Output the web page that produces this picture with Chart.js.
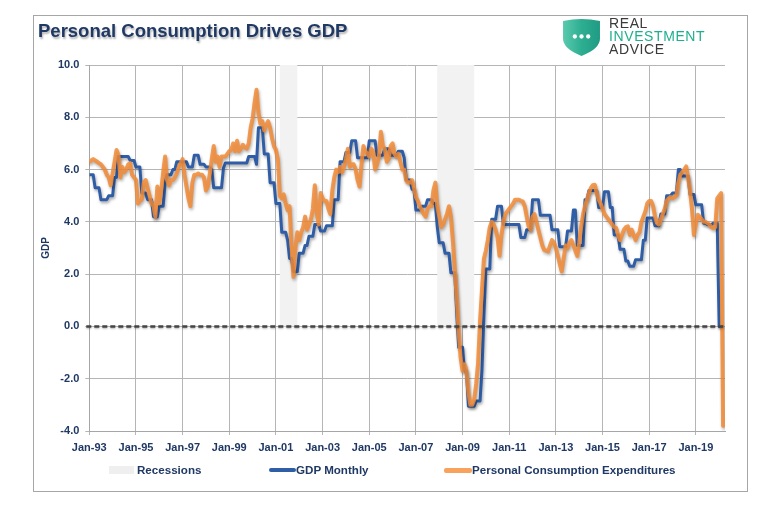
<!DOCTYPE html>
<html>
<head>
  <title>Personal Consumption Drives GDP</title>
  <script src="https://cdn.jsdelivr.net/npm/chart.js"></script>
  <style>
    body { margin: 0; background: #fff; }
    #wrap { position: relative; width: 772px; height: 507px; overflow: hidden; font-family: "Liberation Sans", Arial, sans-serif; }
    #frame { position: absolute; left: 33px; top: 15px; width: 715px; height: 477px; box-sizing: border-box; border: 1px solid #A6A6A6; }
    canvas { position: absolute; left: 0; top: 0; }
    #title { position: absolute; left: 38px; top: 22px; font-size: 18.5px; line-height: 1; font-weight: bold; color: #1F3864; text-shadow: 1px 2px 2px rgba(0,0,0,0.3); white-space: nowrap; }
    #logo { position: absolute; left: 562px; top: 17px; }
    #logoText { position: absolute; left: 609px; top: 17px; font-size: 14px; line-height: 13px; letter-spacing: 0.6px; color: #3A3A3A; }
    #logoText .teal { color: #1FAF8F; }
    .lg { position: absolute; top: 463px; font-size: 11.6px; line-height: 14px; font-weight: bold; color: #1F3864; white-space: nowrap; }
    .sw { position: absolute; }
  </style>
</head>
<body>
<div id="wrap">
  <div id="frame"></div>
  <canvas id="chart" width="772" height="507"></canvas>
  <div id="title">Personal Consumption Drives GDP</div>
  <svg id="logo" width="39" height="39" viewBox="0 0 38 38">
    <defs>
      <linearGradient id="shield" x1="0" x2="1" y1="0" y2="0">
        <stop offset="0" stop-color="#5ACAAE"/>
        <stop offset="0.5" stop-color="#2DAE91"/>
        <stop offset="1" stop-color="#1F9B83"/>
      </linearGradient>
    </defs>
    <path d="M1,4 Q19,0 37,4 L37,21 Q37,31 19,38 Q1,31 1,21 Z" fill="url(#shield)"/>
    <circle cx="12.5" cy="19" r="2.1" fill="#fff"/>
    <circle cx="19" cy="19" r="2.1" fill="#fff"/>
    <circle cx="25.5" cy="19" r="2.1" fill="#fff"/>
  </svg>
  <div id="logoText">REAL<br><span class="teal">INVESTMENT</span><br>ADVICE</div>

  <div class="sw" style="left:109px; top:466px; width:25px; height:8px; background:#EFEFEF;"></div>
  <div class="lg" style="left:137px;">Recessions</div>
  <div class="sw" style="left:269px; top:468px; width:27px; height:4px; border-radius:2px; background:#2F5DA6;"></div>
  <div class="lg" style="left:296px;">GDP Monthly</div>
  <div class="sw" style="left:444px; top:468px; width:28px; height:5px; border-radius:2px; background:#F8A25E;"></div>
  <div class="lg" style="left:472px;">Personal Consumption Expenditures</div>
</div>

<script>
  // monthly values, Jan-93 .. Mar-20 (one row per year)
  const gdpMonthly = [
    5.8, 5.8, 5.8, 5.3, 5.3, 5.3, 4.85, 4.85, 4.85, 4.85, 5.0, 5.0,
    5.0, 5.7, 5.7, 6.5, 6.5, 6.5, 6.5, 6.5, 6.5, 6.35, 6.35, 6.35,
    6.1, 6.1, 6.1, 5.1, 5.1, 5.1, 4.85, 4.85, 4.85, 4.2, 4.2, 4.2,
    4.6, 4.6, 4.6, 5.5, 5.8, 5.8, 5.8, 6.0, 6.0, 6.3, 6.3, 6.3,
    6.3, 6.3, 6.3, 6.1, 6.1, 6.1, 6.55, 6.55, 6.55, 6.2, 6.2, 6.2,
    6.1, 6.1, 6.1, 6.0, 5.3, 5.3, 5.3, 5.3, 5.3, 6.05, 6.25, 6.25,
    6.25, 6.25, 6.25, 6.25, 6.25, 6.25, 6.25, 6.25, 6.25, 6.25, 6.5, 6.5,
    6.5, 6.5, 6.2, 7.6, 7.6, 7.6, 6.6, 6.6, 6.6, 5.5, 5.5, 5.5,
    4.7, 4.7, 4.7, 3.6, 3.6, 3.6, 3.3, 2.6, 2.6, 2.1, 2.1, 2.1,
    2.8, 2.8, 2.8, 3.1, 3.1, 3.45, 3.45, 3.45, 3.9, 3.9, 3.9, 3.65,
    3.65, 3.65, 3.85, 3.85, 3.85, 3.85, 4.85, 4.85, 4.85, 6.3, 6.3, 6.3,
    6.65, 6.65, 6.65, 7.1, 7.1, 7.1, 6.45, 6.45, 6.45, 6.45, 6.45, 6.45,
    7.1, 7.1, 7.1, 7.1, 6.55, 6.55, 6.55, 6.55, 6.8, 6.8, 6.8, 6.55,
    6.55, 6.55, 6.55, 6.7, 6.7, 6.7, 6.45, 5.6, 5.6, 5.6, 5.25, 5.25,
    4.45, 4.45, 4.45, 4.6, 4.6, 4.6, 4.85, 4.85, 4.85, 4.7, 4.7, 3.8,
    3.2, 3.2, 3.2, 2.8, 2.8, 2.8, 2.05, 2.05, 2.05, 0.5, -0.8, -0.8,
    -0.8, -1.7, -1.7, -3.05, -3.05, -3.05, -3.05, -2.85, -2.85, -2.85, -1.65, 0.45,
    2.2, 2.2, 2.2, 4.1, 4.1, 4.1, 4.6, 4.6, 4.6, 3.9, 3.9, 3.9,
    3.9, 3.9, 3.9, 3.9, 3.9, 3.9, 3.4, 3.4, 3.4, 3.7, 3.7, 3.7,
    4.85, 4.85, 4.85, 4.85, 4.25, 4.25, 4.25, 4.25, 4.25, 4.25, 3.7, 3.7,
    3.7, 3.7, 3.05, 3.05, 3.05, 3.05, 3.65, 3.65, 3.65, 4.45, 4.45, 3.1,
    3.1, 3.1, 3.1, 4.85, 4.85, 5.2, 5.2, 5.2, 5.2, 5.2, 4.55, 4.55,
    4.55, 5.15, 5.15, 5.15, 4.55, 4.55, 3.5, 3.5, 3.5, 2.95, 2.95, 2.95,
    2.5, 2.5, 2.3, 2.3, 2.3, 2.55, 2.55, 2.55, 2.55, 3.3, 3.3, 4.15,
    4.15, 4.15, 4.15, 3.85, 3.85, 3.85, 4.3, 4.3, 4.3, 5.0, 5.0, 5.0,
    5.1, 5.1, 5.1, 6.0, 6.0, 5.75, 5.75, 5.75, 5.75, 5.05, 5.05, 5.05,
    4.65, 4.65, 4.65, 4.65, 3.95, 3.95, 3.9, 3.9, 3.9, 3.95, 3.95, 3.95,
    0, 0, 0
  ];

  const pceMonthly = [
    6.3, 6.35, 6.4, 6.35, 6.3, 6.25, 6.2, 6.1, 6.0, 5.8, 5.7, 5.4,
    5.85, 6.3, 6.75, 6.55, 5.7, 6.1, 5.9, 6.0, 6.2, 6.25, 5.8, 5.7,
    5.6, 4.7, 4.8, 4.85, 5.5, 5.6, 5.3, 5.0, 4.7, 4.6, 4.2, 5.35,
    4.7, 5.2, 5.9, 6.5, 5.6, 5.4, 5.6, 5.6, 5.7, 5.85, 6.1, 6.25,
    6.4, 5.8, 5.35, 4.9, 4.6, 5.5, 5.8, 5.8, 5.85, 5.8, 5.8, 5.7,
    5.2, 5.35, 5.85, 6.4, 6.9, 6.3, 6.5, 6.1, 6.5, 6.5, 6.5, 6.6,
    6.7, 6.75, 7.0, 6.7, 7.1, 6.7, 6.8, 6.95, 6.85, 6.8, 7.0, 7.6,
    7.95, 8.55, 9.05, 8.2, 7.75, 7.85, 7.5, 7.7, 7.85, 7.6, 7.2, 6.9,
    6.75, 6.4, 5.0, 4.9, 5.05, 4.7, 4.45, 4.6, 3.1, 1.9, 3.0, 3.6,
    3.3, 3.6, 3.8, 4.2, 3.7, 3.9, 4.1, 4.5, 5.4, 4.3, 3.9, 5.1,
    4.9, 4.8, 4.8, 4.5, 4.3, 5.2, 5.7, 6.0, 5.9, 6.1, 5.9, 6.1,
    6.4, 6.8, 6.1, 6.2, 6.2, 6.0, 5.6, 5.35, 6.2, 6.9, 6.7, 6.6,
    6.5, 6.8, 6.7, 6.0, 6.2, 6.5, 7.45, 6.9, 6.8, 6.3, 6.4, 6.9,
    7.0, 6.6, 6.5, 6.6, 6.3, 6.0, 6.0, 5.6, 5.5, 5.5, 5.6, 5.3,
    4.95, 4.8, 4.6, 4.45, 4.3, 4.2, 4.5, 4.6, 4.6, 5.2, 5.5, 4.6,
    4.2, 3.8, 3.9, 4.1, 4.3, 4.6, 4.2, 3.3, 2.2, 1.1, -0.2, -1.2,
    -1.7, -1.45, -1.7, -2.5, -3.0, -3.0, -2.8, -2.2, -1.4, 0.2, 1.4, 2.6,
    2.9, 3.3, 3.8, 4.0, 3.9, 3.7, 3.4, 2.7, 3.5, 4.0, 4.3, 4.4,
    4.5, 4.6, 4.7, 4.85, 4.85, 4.85, 4.8, 4.78, 4.6, 4.2, 3.83, 3.7,
    4.2, 4.3, 4.0, 3.7, 3.4, 3.1, 2.93, 2.9, 2.87, 3.1, 3.3, 3.2,
    3.0, 2.7, 2.4, 2.1, 2.6, 3.1, 3.0, 3.2, 3.3, 3.1, 2.9, 2.7,
    3.2, 3.8, 4.3, 4.6, 4.85, 5.1, 5.3, 5.4, 5.42, 5.1, 4.85, 4.7,
    4.5, 4.3, 4.2, 4.1, 4.0, 3.9, 3.8, 3.76, 3.5, 3.3, 3.5, 3.7,
    3.8, 3.83, 3.5, 3.7, 3.5, 3.3, 3.5, 3.6, 4.0, 4.2, 4.4, 4.7,
    4.8, 4.8, 4.6, 4.2, 3.95, 3.9, 4.1, 4.3, 4.5, 4.8, 4.9, 4.95,
    4.9, 4.95, 5.0, 5.5, 5.8, 5.9, 6.0, 6.12, 5.7, 5.2, 4.5, 3.5,
    3.9, 4.27, 4.2, 4.1, 4.0, 4.0, 3.95, 3.9, 3.8, 3.76, 3.8, 4.9,
    5.0, 5.1, -3.8
  ];

  // recessions as [first month, last month], month index from Jan-93
  const recessionStart = [98, 179];   // Mar-01, Dec-07
  const recessionEnd = [106, 197];    // Nov-01, Jun-09
  const recessionHeight = 10;

  const tickMonths = [0, 24, 48, 72, 96, 120, 144, 168, 192, 216, 240, 264, 288, 312];
  const tickLabels = ['Jan-93', 'Jan-95', 'Jan-97', 'Jan-99', 'Jan-01', 'Jan-03', 'Jan-05',
                      'Jan-07', 'Jan-09', 'Jan-11', 'Jan-13', 'Jan-15', 'Jan-17', 'Jan-19'];

  const navy = '#1F3864';
  Chart.defaults.font.family = '"Liberation Sans", Arial, sans-serif';

  // grey bands behind the lines
  const recessionBands = {
    id: 'recessionBands',
    beforeDatasetsDraw(chart) {
      const { ctx, scales: { x, y } } = chart;
      ctx.save();
      ctx.fillStyle = '#F2F2F2';
      recessionStart.forEach((s, i) => {
        const x0 = x.getPixelForValue(s);
        const x1 = x.getPixelForValue(recessionEnd[i] + 1);
        const y0 = y.getPixelForValue(recessionHeight);
        const y1 = y.getPixelForValue(0);
        ctx.fillRect(x0, y0, x1 - x0, y1 - y0);
      });
      ctx.restore();
    }
  };

  // soft drop shadow on the series
  const lineShadow = {
    id: 'lineShadow',
    beforeDatasetDraw(chart) {
      const ctx = chart.ctx;
      ctx.save();
      ctx.shadowColor = 'rgba(0,0,0,0.35)';
      ctx.shadowBlur = 3;
      ctx.shadowOffsetX = 1;
      ctx.shadowOffsetY = 2;
    },
    afterDatasetDraw(chart) {
      chart.ctx.restore();
    }
  };

  // dashed line at zero
  const zeroLine = {
    id: 'zeroLine',
    afterDatasetsDraw(chart) {
      const { ctx, chartArea, scales: { y } } = chart;
      const yy = y.getPixelForValue(0);
      ctx.save();
      ctx.strokeStyle = '#454545';
      ctx.lineWidth = 2.5;
      ctx.setLineDash([5, 3]);
      ctx.shadowColor = 'rgba(0,0,0,0.3)';
      ctx.shadowBlur = 2;
      ctx.shadowOffsetY = 1;
      ctx.beginPath();
      ctx.moveTo(chartArea.left - 3, yy);
      ctx.lineTo(chartArea.right, yy);
      ctx.stroke();
      ctx.restore();
    }
  };

  const ctx = document.getElementById('chart').getContext('2d');
  new Chart(ctx, {
    type: 'line',
    data: {
      datasets: [
        {
          label: 'Personal Consumption Expenditures',
          data: pceMonthly.map((v, i) => ({ x: i, y: v })),
          borderColor: 'rgba(242,137,54,0.85)',
          borderWidth: 4,
          pointRadius: 0,
          tension: 0,
          borderJoinStyle: 'round',
          borderCapStyle: 'round',
          order: 1
        },
        {
          label: 'GDP Monthly',
          data: gdpMonthly.map((v, i) => ({ x: i, y: v })),
          borderColor: '#2F5DA6',
          borderWidth: 3,
          pointRadius: 0,
          tension: 0,
          borderJoinStyle: 'round',
          order: 2
        }
      ]
    },
    options: {
      responsive: false,
      animation: false,
      devicePixelRatio: 1,
      layout: { padding: { left: 30, right: 47, top: 65, bottom: 46 } },
      plugins: {
        legend: { display: false },
        tooltip: { enabled: false }
      },
      scales: {
        x: {
          type: 'linear',
          min: 0,
          max: 327,
          afterBuildTicks: axis => { axis.ticks = tickMonths.map(v => ({ value: v })); },
          afterFit: axis => { axis.height = 30; },
          grid: { color: '#B5B5B5', tickLength: 4 },
          border: { color: '#A6A6A6' },
          ticks: {
            autoSkip: false,
            maxRotation: 0,
            padding: 6,
            color: navy,
            font: { size: 11, weight: 'bold' },
            callback: v => tickLabels[tickMonths.indexOf(v)]
          }
        },
        y: {
          min: -4,
          max: 10,
          afterFit: axis => { axis.width = 59.3; },
          grid: { color: '#B5B5B5', tickLength: 4 },
          border: { color: '#A6A6A6' },
          ticks: {
            stepSize: 2,
            padding: 6,
            color: navy,
            font: { size: 11, weight: 'bold' },
            callback: v => v.toFixed(1)
          },
          title: {
            display: true,
            text: 'GDP',
            color: navy,
            font: { size: 10, weight: 'bold' },
            padding: { top: 10, bottom: 0 }
          }
        }
      }
    },
    plugins: [recessionBands, lineShadow, zeroLine]
  });
</script>
</body>
</html>
